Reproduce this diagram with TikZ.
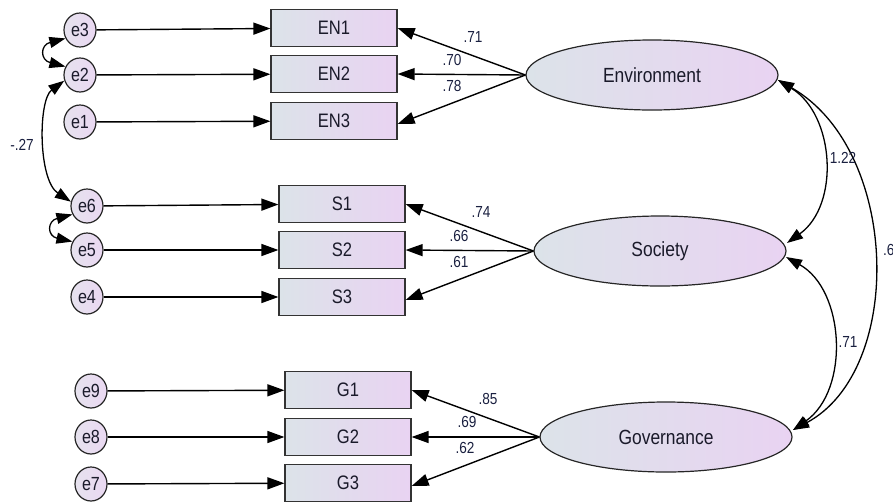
\documentclass[tikz,border=0pt]{standalone}
\usepackage{fontspec}
\setmainfont{Liberation Sans}
\newfontfamily\condfont{Liberation Sans}[FakeStretch=0.85]
\usetikzlibrary{shapes.geometric,arrows.meta}
\definecolor{fillL}{HTML}{DCE3E9}
\definecolor{fillR}{HTML}{E9D3F2}
\definecolor{circL}{HTML}{E6E2EE}
\definecolor{circR}{HTML}{EAD8F2}
\definecolor{lblc}{HTML}{1A2040}
\definecolor{txtc}{HTML}{1A1A2A}
\begin{document}
\begin{tikzpicture}[x=1pt,y=-1pt,
  errc/.style={ellipse,draw=black!85,line width=1.2pt,minimum width=32pt,minimum height=34pt,inner sep=0pt,
     left color=circL,right color=circR,text=txtc,font=\condfont\fontsize{19}{19}\selectfont},
  obsbox/.style={rectangle,draw=black!80,line width=1.2pt,minimum width=126pt,minimum height=37pt,inner sep=0pt,
     left color=fillL,right color=fillR,text=txtc,font=\condfont\fontsize{19.5}{19.5}\selectfont},
  latent/.style={ellipse,draw=black!85,line width=1.2pt,minimum width=252pt,minimum height=70pt,inner sep=0pt,
     left color=fillL,right color=fillR,text=txtc,font=\condfont\fontsize{20.5}{20.5}\selectfont},
  arr/.style={line width=1.4pt,-{Triangle[length=17pt,width=12pt]}},
  darr/.style={line width=1.3pt,{Triangle[length=16pt,width=11pt]}-{Triangle[length=16pt,width=11pt]}},
  lbl/.style={font=\condfont\fontsize{16}{16}\selectfont,inner sep=1pt,text=lblc}]
\useasboundingbox (0,0) rectangle (893,501);
% error terms
\node[errc] (e3) at (80,30) {e3};
\node[errc] (e2) at (80,75) {e2};
\node[errc] (e1) at (80,122) {e1};
\node[errc] (e6) at (87,206) {e6};
\node[errc] (e5) at (87,250) {e5};
\node[errc] (e4) at (87,297) {e4};
\node[errc] (e9) at (91,391) {e9};
\node[errc] (e8) at (91,437) {e8};
\node[errc] (e7) at (91,484) {e7};
% observed
\node[obsbox] (EN1) at (334,28) {EN1};
\node[obsbox] (EN2) at (334,74) {EN2};
\node[obsbox] (EN3) at (334,121) {EN3};
\node[obsbox] (S1) at (342,204) {S1};
\node[obsbox] (S2) at (342,250) {S2};
\node[obsbox] (S3) at (342,297) {S3};
\node[obsbox] (G1) at (348,390) {G1};
\node[obsbox] (G2) at (348,437) {G2};
\node[obsbox] (G3) at (348,483) {G3};
% latent
\node[latent] (Env) at (652,75) {Environment};
\node[latent] (Soc) at (660,251) {Society};
\node[latent] (Gov) at (666,437) {Governance};
% error arrows
\foreach \e/\o in {e3/EN1,e2/EN2,e1/EN3,e6/S1,e5/S2,e4/S3,e9/G1,e8/G2,e7/G3}
  \draw[arr] (\e) -- (\o);
% loadings
\draw[arr] (Env.west) -- (EN1.east);
\draw[arr] (Env.west) -- (EN2.east);
\draw[arr] (Env.west) -- ([yshift=-3pt]EN3.east);
\draw[arr] (Soc.west) -- (S1.east);
\draw[arr] (Soc.west) -- (S2.east);
\draw[arr] (Soc.west) -- ([yshift=-3pt]S3.east);
\draw[arr] (Gov.west) -- (G1.east);
\draw[arr] (Gov.west) -- (G2.east);
\draw[arr] (Gov.west) -- ([yshift=-3pt]G3.east);
\node[lbl] at (473,37) {.71};
\node[lbl] at (452,60) {.70};
\node[lbl] at (452,86) {.78};
\node[lbl] at (481,212) {.74};
\node[lbl] at (459,236) {.66};
\node[lbl] at (459,262) {.61};
\node[lbl] at (488,399) {.85};
\node[lbl] at (467,422) {.69};
\node[lbl] at (465,448) {.62};
% covariances latent
\coordinate (envR) at (778,80);
\coordinate (socR1) at (787,243);
\coordinate (socR2) at (786,257);
\coordinate (govR) at (793,430);
\draw[darr] (envR) .. controls (835,115) and (840,205) .. (socR1);
\draw[darr] (envR) .. controls (900,150) and (905,370) .. (govR);
\draw[darr] (socR2) .. controls (845,290) and (850,390) .. (govR);
\node[lbl] at (843,158) {1.22};
\node[lbl,anchor=west] at (882,250) {.6};
\node[lbl] at (848,342) {.71};
% covariances errors
\draw[darr] (e2.200) .. controls (38,100) and (38,180) .. (e6.165);
\node[lbl] at (22,145) {-.27};
\draw[darr] (e3.210) .. controls (40,45) and (40,60) .. (e2.150);
\draw[darr] (e6.210) .. controls (47,221) and (47,236) .. (e5.150);
\end{tikzpicture}
\end{document}
